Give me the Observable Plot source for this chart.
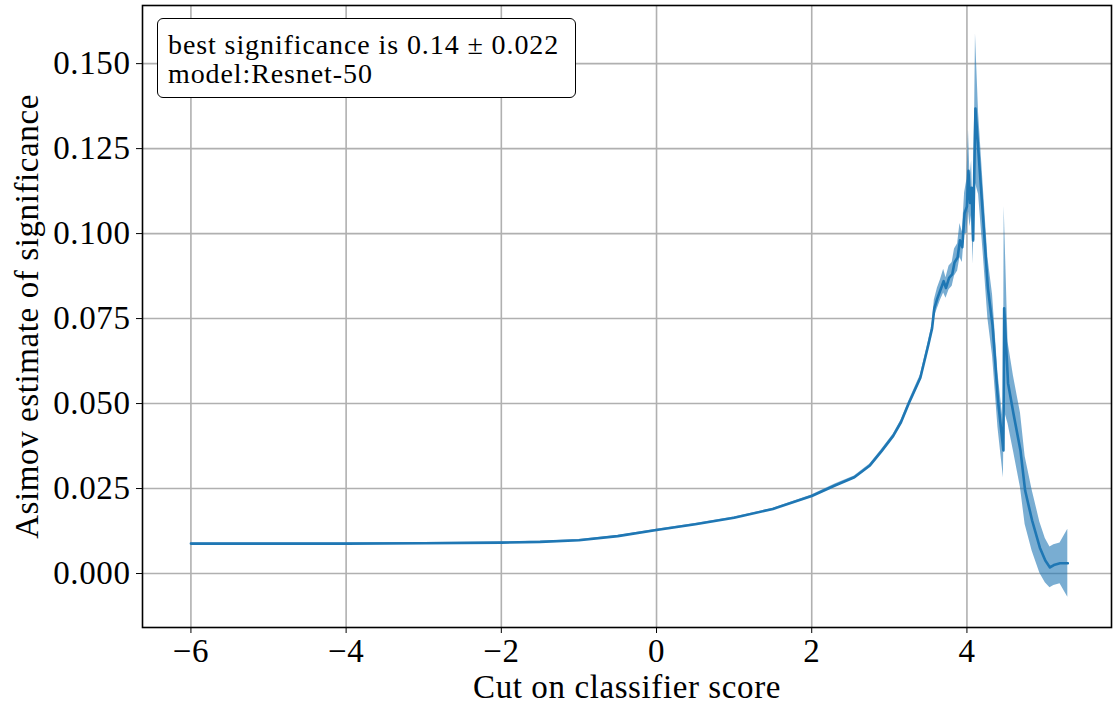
<!DOCTYPE html>
<html>
<head>
<meta charset="utf-8">
<script src="https://cdn.jsdelivr.net/npm/d3@7"></script>
<script src="https://cdn.jsdelivr.net/npm/@observablehq/plot@0.6"></script>
<style>
  html, body { margin: 0; padding: 0; background: #fff; }
  #wrap { position: relative; width: 1114px; height: 711px; }
  #legend {
    position: absolute; left: 157px; top: 18px; width: 419px; height: 80px;
    border: 1.5px solid #000; border-radius: 6px; background: #fff;
    font-family: "Liberation Serif", serif; font-size: 28px; line-height: 29px;
    letter-spacing: 0.9px;
    padding: 0 0 0 10px; box-sizing: border-box; padding-top: 11px; color: #000;
  }
  svg text { letter-spacing: 0.6px; }
</style>
</head>
<body>
<div id="wrap"><div id="legend">best significance is 0.14 ± 0.022<br>model:Resnet-50</div></div>
<script>
const cutValues = [-6, -5, -4, -3, -2, -1.5, -1, -0.5, 0, 0.5, 1, 1.5, 2, 2.3, 2.55, 2.75, 2.9, 3.05, 3.15, 3.25, 3.4, 3.5, 3.55, 3.58, 3.62, 3.66, 3.70, 3.73, 3.77, 3.81, 3.84, 3.88, 3.91, 3.94, 3.97, 4.00, 4.02, 4.04, 4.06, 4.08, 4.10, 4.11, 4.15, 4.21, 4.27, 4.33, 4.40, 4.47, 4.48, 4.53, 4.60, 4.69, 4.75, 4.84, 4.94, 5.01, 5.07, 5.12, 5.2, 5.3];
const significance = [0.0088, 0.0088, 0.0088, 0.0089, 0.0091, 0.0093, 0.0098, 0.0110, 0.0128, 0.0145, 0.0164, 0.0190, 0.0228, 0.0259, 0.0283, 0.0318, 0.0360, 0.0405, 0.0445, 0.0500, 0.0576, 0.0670, 0.0720, 0.0780, 0.0810, 0.0835, 0.0860, 0.0840, 0.0870, 0.0880, 0.0915, 0.0930, 0.0980, 0.0960, 0.1060, 0.1080, 0.1185, 0.1090, 0.1135, 0.0980, 0.1250, 0.1368, 0.1235, 0.1040, 0.0840, 0.0730, 0.0509, 0.0362, 0.0780, 0.0560, 0.0470, 0.0362, 0.0244, 0.0156, 0.0076, 0.0038, 0.0018, 0.0025, 0.0030, 0.0030];
const uncertainty = [0.0002, 0.0002, 0.0002, 0.0002, 0.0002, 0.0002, 0.0002, 0.0002, 0.0002, 0.0002, 0.0002, 0.0002, 0.0003, 0.0004, 0.0004, 0.0004, 0.0005, 0.0005, 0.0006, 0.0007, 0.0008, 0.0010, 0.0012, 0.0025, 0.0030, 0.0030, 0.0035, 0.0030, 0.0035, 0.0035, 0.0040, 0.0040, 0.0050, 0.0045, 0.0060, 0.0080, 0.0120, 0.0070, 0.0080, 0.0070, 0.0120, 0.0220, 0.0120, 0.0100, 0.0090, 0.0090, 0.0080, 0.0080, 0.0300, 0.0120, 0.0110, 0.0110, 0.0100, 0.0090, 0.0075, 0.0065, 0.0060, 0.0060, 0.0060, 0.0100];
const xTicks = [-6, -4, -2, 0, 2, 4];
const yTicks = [0, 0.025, 0.05, 0.075, 0.1, 0.125, 0.15];

const data = cutValues.map((x, i) => ({x, y: significance[i], lo: significance[i] - uncertainty[i], hi: significance[i] + uncertainty[i]}));

const color = "#1f77b4";
const chart = Plot.plot({
  width: 1114,
  height: 711,
  marginLeft: 142,
  marginRight: 3,
  marginTop: 5,
  marginBottom: 84,
  style: {fontFamily: "'Liberation Serif', serif", fontSize: "33px", color: "#000", background: "#fff"},
  x: {domain: [-6.624, 5.863]},
  y: {domain: [-0.01588, 0.1671]},
  marks: [
    Plot.gridX(xTicks, {stroke: "#b0b0b0", strokeOpacity: 1, strokeWidth: 1.6}),
    Plot.gridY(yTicks, {stroke: "#b0b0b0", strokeOpacity: 1, strokeWidth: 1.6}),
    Plot.areaY(data, {x: "x", y1: "lo", y2: "hi", fill: color, fillOpacity: 0.6}),
    Plot.line(data, {x: "x", y: "y", stroke: color, strokeWidth: 2.6}),
    Plot.frame({stroke: "#000", strokeWidth: 1.6}),
    Plot.axisX(xTicks, {tickSize: 6, tickPadding: 5, fontSize: 33, label: "Cut on classifier score", labelAnchor: "center", labelArrow: "none", labelOffset: 70, tickFormat: d => d < 0 ? "\u2212" + Math.abs(d) : String(d)}),
    Plot.axisY(yTicks, {tickSize: 6, tickPadding: 6, fontSize: 33, tickFormat: d3.format(".3f"), label: "Asimov estimate of significance", labelAnchor: "center", labelArrow: "none", labelOffset: 128})
  ]
});
document.getElementById("wrap").prepend(chart);
chart.style.position = "absolute";
chart.style.left = "0";
chart.style.top = "0";
</script>
</body>
</html>
